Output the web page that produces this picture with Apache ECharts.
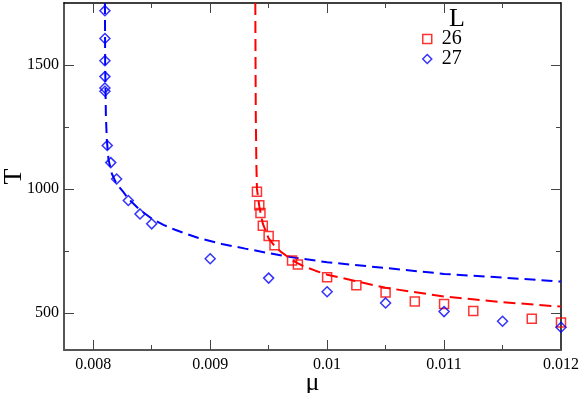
<!DOCTYPE html>
<html>
<head>
<meta charset="utf-8">
<script src="https://cdn.jsdelivr.net/npm/echarts@6/dist/echarts.min.js"></script>
<style>
  html, body { margin: 0; padding: 0; background: #fff; }
  #chart { width: 581px; height: 393px; }
</style>
</head>
<body>
<div id="chart"></div>
<script>
// axis ticks
const xTicks = [0.008, 0.009, 0.01, 0.011, 0.012];
const xMinorTicks = [0.0085, 0.0095, 0.0105, 0.0115];
const yTicks = [500, 1000, 1500];
const yMinorTicks = [750, 1250];

// measured points, L = 26 (red squares)
const mu26 = [0.0094, 0.00942, 0.00943, 0.00945, 0.0095, 0.00955, 0.0097, 0.00975, 0.01, 0.01025, 0.0105, 0.01075, 0.011, 0.01125, 0.01175, 0.012];
const t26 = [988, 934, 903, 851, 810, 773, 711, 695, 644, 611, 582, 546, 536, 507, 476, 461];

// measured points, L = 27 (blue diamonds)
const mu27 = [0.0081, 0.0081, 0.0081, 0.0081, 0.0081, 0.0081, 0.00812, 0.00815, 0.0082, 0.0083, 0.0084, 0.0085, 0.009, 0.0095, 0.01, 0.0105, 0.011, 0.0115, 0.012];
const t27 = [1719, 1607, 1517, 1453, 1407, 1394, 1175, 1106, 1040, 953, 899, 859, 718, 640, 585, 540, 505, 466, 442];

// dashed fit curves
const fitMu26 = [0.009386, 0.009388, 0.00939, 0.009395, 0.0094, 0.00942, 0.00945, 0.0095, 0.00955, 0.0096, 0.00966, 0.0097, 0.0098, 0.0099, 0.01, 0.0105, 0.011, 0.0115, 0.012];
const fitT26 = [1750, 1500, 1300, 1100, 1000, 930, 860, 800, 770, 748, 727, 712, 688, 670, 654, 601, 566, 543, 525];
const fitMu27 = [0.0081, 0.008102, 0.008108, 0.008116, 0.00813, 0.00816, 0.0082, 0.00826, 0.0083, 0.0084, 0.0085, 0.0086, 0.0087, 0.0088, 0.0089, 0.009, 0.0091, 0.0093, 0.0095, 0.00966, 0.01, 0.0105, 0.011, 0.0115, 0.012];
const fitT27 = [1750, 1500, 1300, 1200, 1120, 1060, 1020, 986, 960, 915, 880, 855, 835, 818, 802, 790, 778, 759, 741, 727, 704, 681, 657, 642, 626];

const pairs = (xs, ys) => xs.map((x, i) => [x, ys[i]]);

const FONT = '"Liberation Serif", serif';
const X_MIN = 0.00775, X_MAX = 0.012;
const Y_MIN = 350, Y_MAX = 1750;

const fmt = (v) => String(parseFloat(v.toFixed(4)));

const majorX = (pos, show) => ({
    type: 'value', position: pos, min: X_MIN, max: X_MAX,
    axisLine: { show: true, lineStyle: { color: pos === 'bottom' ? '#555' : '#000', width: pos === 'bottom' ? 2 : 1.5 } },
    axisTick: { inside: true, length: 10, customValues: xTicks, lineStyle: { color: '#444' } },
    axisLabel: {
        show, customValues: xTicks, formatter: fmt, margin: 7,
        fontFamily: FONT, fontSize: 16, color: '#000',
    },
    splitLine: { show: false },
    name: show ? 'μ' : '', nameLocation: 'middle', nameGap: 20, nameMoveOverlap: false,
    nameTextStyle: { fontFamily: FONT, fontSize: 26, color: '#000' },
});
const minorX = (pos) => ({
    type: 'value', position: pos, min: X_MIN, max: X_MAX,
    axisLine: { show: false },
    axisTick: { inside: true, length: 5, customValues: xMinorTicks, lineStyle: { color: '#444' } },
    axisLabel: { show: false },
    splitLine: { show: false },
});
const majorY = (pos, show) => ({
    type: 'value', position: pos, min: Y_MIN, max: Y_MAX,
    axisLine: { show: true, lineStyle: { color: pos === 'left' ? '#555' : '#000', width: pos === 'left' ? 2 : 1.5 } },
    axisTick: { inside: true, length: 10, customValues: yTicks, lineStyle: { color: '#444' } },
    axisLabel: {
        show, customValues: yTicks, margin: 5, formatter: (v) => String(v),
        fontFamily: FONT, fontSize: 16, color: '#000',
    },
    splitLine: { show: false },
    name: show ? 'T' : '', nameLocation: 'middle', nameGap: 37, nameMoveOverlap: false,
    nameTextStyle: { fontFamily: FONT, fontSize: 26, color: '#000' },
});
const minorY = (pos) => ({
    type: 'value', position: pos, min: Y_MIN, max: Y_MAX,
    axisLine: { show: false },
    axisTick: { inside: true, length: 5, customValues: yMinorTicks, lineStyle: { color: '#444' } },
    axisLabel: { show: false },
    splitLine: { show: false },
});

const chart = echarts.init(document.getElementById('chart'));
chart.setOption({
    animation: false,
    backgroundColor: '#fff',
    grid: { left: 64, right: 20, top: 3, bottom: 43, outerBoundsMode: 'none' },
    xAxis: [majorX('bottom', true), minorX('bottom'), majorX('top', false), minorX('top')],
    yAxis: [majorY('left', true), minorY('left'), majorY('right', false), minorY('right')],
    legend: {
        orient: 'vertical', left: 422, top: 29, padding: 0, itemGap: 0,
        itemWidth: 9, itemHeight: 9,
        textStyle: { fontFamily: FONT, fontSize: 20, color: '#000', lineHeight: 20, padding: [0, 0, 0, 5] },
        data: [
            { name: '26', icon: 'rect', itemStyle: { color: 'rgba(0,0,0,0)', borderColor: '#ff0000', borderWidth: 1.5 } },
            { name: '27', icon: 'diamond', itemStyle: { color: 'rgba(0,0,0,0)', borderColor: '#0000ff', borderWidth: 1.5 } },
        ],
    },
    graphic: [{
        type: 'text', left: 449, top: 6,
        style: { text: 'L', font: '26px "Liberation Serif"', fill: '#000' },
    }],
    series: [
        {
            name: 'fit26', type: 'line', data: pairs(fitMu26, fitT26), showSymbol: false,
            lineStyle: { color: '#ff0000', width: 2, type: [12, 6] }, z: 2,
        },
        {
            name: 'fit27', type: 'line', data: pairs(fitMu27, fitT27), showSymbol: false,
            lineStyle: { color: '#0000ff', width: 2, type: [11, 6] }, z: 2,
        },
        {
            name: '26', type: 'scatter', data: pairs(mu26, t26), symbol: 'rect', symbolSize: 9, clip: false,
            itemStyle: { color: 'rgba(0,0,0,0)', borderColor: '#ff0000', borderWidth: 1.5 }, z: 3,
        },
        {
            name: '27', type: 'scatter', data: pairs(mu27, t27), symbol: 'diamond', symbolSize: 10, clip: false,
            itemStyle: { color: 'rgba(0,0,0,0)', borderColor: '#0000ff', borderWidth: 1.5 }, z: 3,
        },
    ],
});
</script>
</body>
</html>
